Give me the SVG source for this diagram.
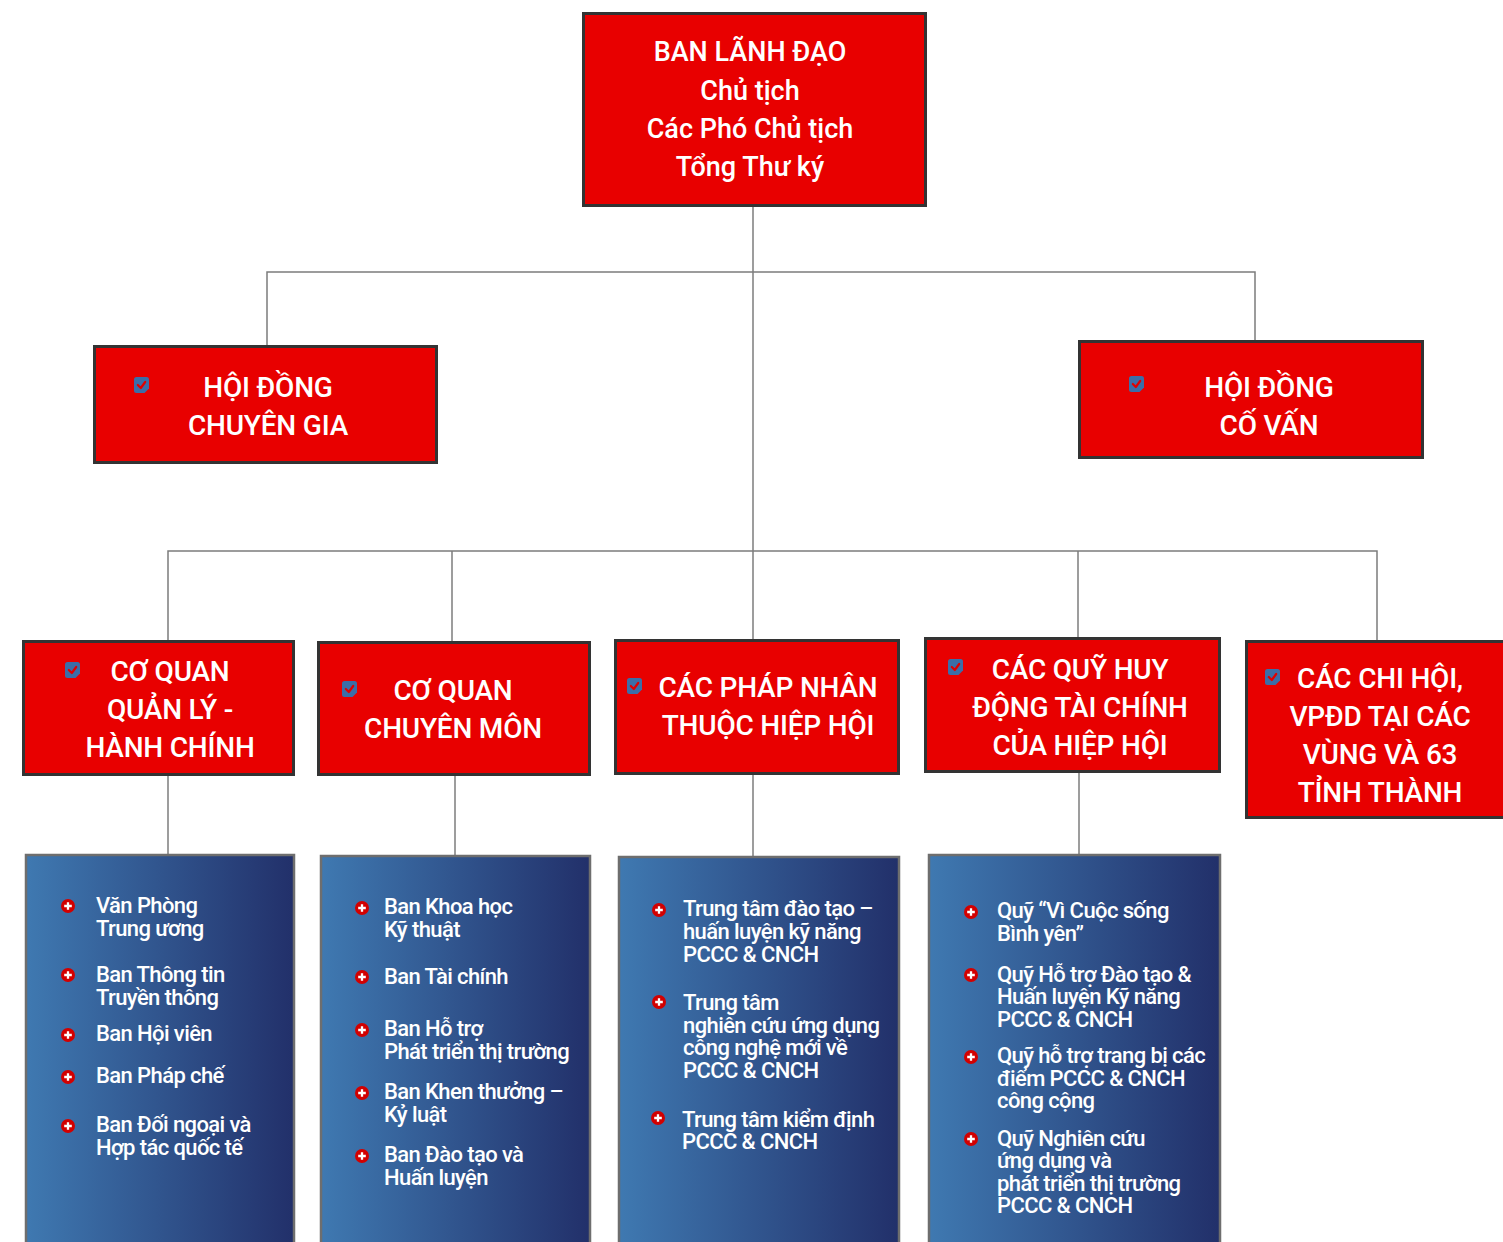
<svg xmlns="http://www.w3.org/2000/svg" xmlns:xlink="http://www.w3.org/1999/xlink" width="1503" height="1242" viewBox="0 0 1503 1242">
<defs>
<linearGradient id="blueGrad" x1="0" y1="0" x2="1" y2="0">
<stop offset="0" stop-color="#3f79b1"/>
<stop offset="1" stop-color="#22306a"/>
</linearGradient>
<g id="chk">
<path d="M2.5,0 H12.5 Q15,0 15,2.5 V11.5 L10.5,16 H2.5 Q0,16 0,13.5 V2.5 Q0,0 2.5,0 Z" fill="#3b6ea8"/>
<path d="M3.8,8 L6.8,11 L11.2,5" fill="none" stroke="#e00000" stroke-width="2.2" stroke-linejoin="round" stroke-linecap="round"/>
</g>
<g id="bul">
<circle cx="0" cy="0" r="7" fill="#d20000"/>
<path d="M-3.8,0 H3.8 M0,-3.8 V3.8" stroke="#ffffff" stroke-width="2.3"/>
</g>
</defs>
<style>
.red{fill:#e80000;stroke:#333333;stroke-width:3}
.blue{fill:url(#blueGrad);stroke:#6e6e6e;stroke-width:2.5}
.conn{fill:none;stroke:#7c7c7c;stroke-width:1.5}
.rt{font-family:Roboto,"Liberation Sans",sans-serif;font-size:28px;font-weight:500;fill:#ffffff;text-anchor:middle;letter-spacing:-0.2px}
.tt{font-family:Roboto,"Liberation Sans",sans-serif;font-size:27px;font-weight:500;fill:#ffffff;text-anchor:middle;letter-spacing:0px}
.bt{font-family:Roboto,"Liberation Sans",sans-serif;font-size:22px;font-weight:500;fill:#ffffff;letter-spacing:-0.6px}
</style>
<rect width="1503" height="1242" fill="#ffffff"/>

<g id="connectors">
<path class="conn" d="M753,207 V640"/>
<path class="conn" d="M267,345 V272 H1255 V340"/>
<path class="conn" d="M168,640 V551 H1377 V640"/>
<path class="conn" d="M452,551 V641"/>
<path class="conn" d="M1078,551 V637"/>
<path class="conn" d="M168,776 V854"/>
<path class="conn" d="M455,776 V855"/>
<path class="conn" d="M753,775 V856"/>
<path class="conn" d="M1079,773 V854"/>
</g>

<g id="ban-lanh-dao">
<rect class="red" x="583.5" y="13.5" width="342" height="192"/>
<text class="tt" x="750" y="61">BAN LÃNH ĐẠO</text>
<text class="tt" x="750" y="100">Chủ tịch</text>
<text class="tt" x="750" y="138">Các Phó Chủ tịch</text>
<text class="tt" x="750" y="176">Tổng Thư ký</text>
</g>

<g id="hoi-dong-chuyen-gia">
<rect class="red" x="94.5" y="346.5" width="342" height="116"/>
<use xlink:href="#chk" x="134" y="377"/>
<text class="rt" x="268" y="397">HỘI ĐỒNG</text>
<text class="rt" x="268" y="435">CHUYÊN GIA</text>
</g>

<g id="hoi-dong-co-van">
<rect class="red" x="1079.5" y="341.5" width="343" height="116"/>
<use xlink:href="#chk" x="1129" y="376"/>
<text class="rt" x="1269" y="397">HỘI ĐỒNG</text>
<text class="rt" x="1269" y="435">CỐ VẤN</text>
</g>

<g id="co-quan-quan-ly">
<rect class="red" x="23.5" y="641.5" width="270" height="133"/>
<use xlink:href="#chk" x="65" y="662"/>
<text class="rt" x="170" y="681">CƠ QUAN</text>
<text class="rt" x="170" y="719">QUẢN LÝ -</text>
<text class="rt" x="170" y="757">HÀNH CHÍNH</text>
</g>

<g id="co-quan-chuyen-mon">
<rect class="red" x="318.5" y="642.5" width="271" height="132"/>
<use xlink:href="#chk" x="342" y="681"/>
<text class="rt" x="453" y="700">CƠ QUAN</text>
<text class="rt" x="453" y="738">CHUYÊN MÔN</text>
</g>

<g id="phap-nhan">
<rect class="red" x="615.5" y="640.5" width="283" height="133"/>
<use xlink:href="#chk" x="627" y="678"/>
<text class="rt" x="768" y="697">CÁC PHÁP NHÂN</text>
<text class="rt" x="768" y="735">THUỘC HIỆP HỘI</text>
</g>

<g id="cac-quy">
<rect class="red" x="925.5" y="638.5" width="294" height="133"/>
<use xlink:href="#chk" x="948" y="659"/>
<text class="rt" x="1080" y="679">CÁC QUỸ HUY</text>
<text class="rt" x="1080" y="717">ĐỘNG TÀI CHÍNH</text>
<text class="rt" x="1080" y="755">CỦA HIỆP HỘI</text>
</g>

<g id="cac-chi-hoi">
<rect class="red" x="1246.5" y="641.5" width="262" height="176"/>
<use xlink:href="#chk" x="1265" y="669"/>
<text class="rt" x="1380" y="688">CÁC CHI HỘI,</text>
<text class="rt" x="1380" y="726">VPĐD TẠI CÁC</text>
<text class="rt" x="1380" y="764">VÙNG VÀ 63</text>
<text class="rt" x="1380" y="802">TỈNH THÀNH</text>
</g>

<g id="list-quan-ly">
<rect class="blue" x="26" y="855" width="268" height="400"/>
<use xlink:href="#bul" x="68" y="906"/>
<text class="bt" x="96" y="913">Văn Phòng</text>
<text class="bt" x="96" y="936">Trung ương</text>
<use xlink:href="#bul" x="68" y="975"/>
<text class="bt" x="96" y="982">Ban Thông tin</text>
<text class="bt" x="96" y="1005">Truyền thông</text>
<use xlink:href="#bul" x="68" y="1035"/>
<text class="bt" x="96" y="1041">Ban Hội viên</text>
<use xlink:href="#bul" x="68" y="1077"/>
<text class="bt" x="96" y="1083">Ban Pháp chế</text>
<use xlink:href="#bul" x="68" y="1126"/>
<text class="bt" x="96" y="1132">Ban Đối ngoại và</text>
<text class="bt" x="96" y="1155">Hợp tác quốc tế</text>
</g>

<g id="list-chuyen-mon">
<rect class="blue" x="321" y="856" width="269" height="400"/>
<use xlink:href="#bul" x="362" y="908"/>
<text class="bt" x="384" y="914">Ban Khoa học</text>
<text class="bt" x="384" y="937">Kỹ thuật</text>
<use xlink:href="#bul" x="362" y="977"/>
<text class="bt" x="384" y="984">Ban Tài chính</text>
<use xlink:href="#bul" x="362" y="1030"/>
<text class="bt" x="384" y="1036">Ban Hỗ trợ</text>
<text class="bt" x="384" y="1059">Phát triển thị trường</text>
<use xlink:href="#bul" x="362" y="1093"/>
<text class="bt" x="384" y="1099">Ban Khen thưởng –</text>
<text class="bt" x="384" y="1122">Kỷ luật</text>
<use xlink:href="#bul" x="362" y="1156"/>
<text class="bt" x="384" y="1162">Ban Đào tạo và</text>
<text class="bt" x="384" y="1185">Huấn luyện</text>
</g>

<g id="list-phap-nhan">
<rect class="blue" x="619" y="857" width="280" height="400"/>
<use xlink:href="#bul" x="659" y="910"/>
<text class="bt" x="683" y="916">Trung tâm đào tạo –</text>
<text class="bt" x="683" y="939">huấn luyện kỹ năng</text>
<text class="bt" x="683" y="962">PCCC &amp; CNCH</text>
<use xlink:href="#bul" x="659" y="1002"/>
<text class="bt" x="683" y="1010">Trung tâm</text>
<text class="bt" x="683" y="1033">nghiên cứu ứng dụng</text>
<text class="bt" x="683" y="1055">công nghệ mới về</text>
<text class="bt" x="683" y="1078">PCCC &amp; CNCH</text>
<use xlink:href="#bul" x="658" y="1118"/>
<text class="bt" x="682" y="1127">Trung tâm kiểm định</text>
<text class="bt" x="682" y="1149">PCCC &amp; CNCH</text>
</g>

<g id="list-quy">
<rect class="blue" x="929" y="855" width="291" height="400"/>
<use xlink:href="#bul" x="971" y="912"/>
<text class="bt" x="997" y="918">Quỹ “Vì Cuộc sống</text>
<text class="bt" x="997" y="941">Bình yên”</text>
<use xlink:href="#bul" x="971" y="975"/>
<text class="bt" x="997" y="982">Quỹ Hỗ trợ Đào tạo &amp;</text>
<text class="bt" x="997" y="1004">Huấn luyện Kỹ năng</text>
<text class="bt" x="997" y="1027">PCCC &amp; CNCH</text>
<use xlink:href="#bul" x="971" y="1057"/>
<text class="bt" x="997" y="1063">Quỹ hỗ trợ trang bị các</text>
<text class="bt" x="997" y="1086">điểm PCCC &amp; CNCH</text>
<text class="bt" x="997" y="1108">công cộng</text>
<use xlink:href="#bul" x="971" y="1139"/>
<text class="bt" x="997" y="1146">Quỹ Nghiên cứu</text>
<text class="bt" x="997" y="1168">ứng dụng và</text>
<text class="bt" x="997" y="1191">phát triển thị trường</text>
<text class="bt" x="997" y="1213">PCCC &amp; CNCH</text>
</g>
</svg>
